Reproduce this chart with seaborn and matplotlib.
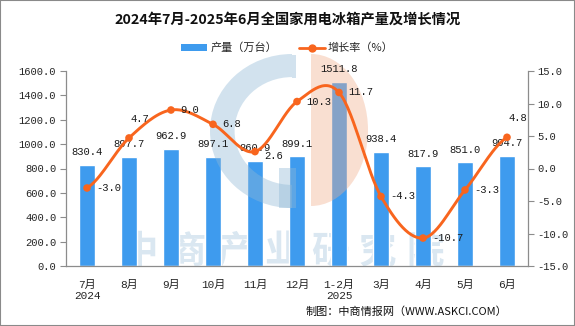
import numpy as np
import pandas as pd
import matplotlib
matplotlib.use("Agg")
import matplotlib.pyplot as plt
from matplotlib.patches import Patch, Wedge, Rectangle
from matplotlib.lines import Line2D
from matplotlib.transforms import Affine2D
from matplotlib.ticker import FixedLocator, FuncFormatter
import seaborn as sns

# ---- data ----
months = ["7月\n2024", "8月", "9月", "10月", "11月", "12月", "1-2月\n2025",
          "3月", "4月", "5月", "6月"]
output = [830.4, 897.7, 962.9, 897.1, 860.9, 899.1, 1511.8, 938.4, 817.9, 851.0, 904.7]
growth = [-3.0, 4.7, 9.0, 6.8, 2.6, 10.3, 11.7, -4.3, -10.7, -3.3, 4.8]

title = "2024年7月-2025年6月全国家用电冰箱产量及增长情况"
bar_name = "产量（万台）"
line_name = "增长率（%）"
source = "制图：中商情报网（WWW.ASKCI.COM）"
watermark = "中商产业研究院"

BAR = "#3E9BEE"
LINE = "#F8651E"
GREY = "#8C8C8C"

sns.set_style("white")
plt.rcParams["font.family"] = ["Liberation Mono", "Noto Sans CJK SC", "DejaVu Sans"]
CJK = ["Noto Sans CJK SC", "DejaVu Sans"]

W, H = 575, 326
fig = plt.figure(figsize=(W / 100, H / 100), dpi=100)
ax = fig.add_axes([66 / W, 1 - 266 / H, (528 - 66) / W, (266 - 71) / H])
ax.set_facecolor("none")

df = pd.DataFrame({"month": months, "output": output, "growth": growth})
xpos = np.arange(len(months))


def px(x, y):
    """pixel position (from top-left) -> inches for dpi_scale_trans"""
    return x / 100, (H - y) / 100


# faint watermark text behind the bars
for i, ch in enumerate(watermark):
    cx, cy = px(140 + i * 47.5, 251)
    ax.text(cx, cy, ch, transform=fig.dpi_scale_trans, family=CJK,
            fontsize=27, fontweight="bold", color="#DAE7F1",
            ha="center", va="center", zorder=0.5, clip_on=False)

sns.barplot(data=df, x="month", y="output", color=BAR, width=0.4,
            saturation=1, ax=ax, zorder=2)
for p, v in zip(ax.patches, output):
    ax.annotate(f"{v:.1f}", (p.get_x() + p.get_width() / 2, v),
                xytext=(0, 5.5), textcoords="offset points",
                ha="center", va="bottom", fontsize=7.6, color="#1a1a1a", zorder=6)

# logo shapes laid over the bars
blue_c = "#8FB8D6"
peach = "#F2AF8E"
tr_blue = Affine2D().scale(0.82, 0.77).translate(*px(292, 131)) + fig.dpi_scale_trans
ax.add_patch(Wedge((0, 0), 1.0, 90, 270, width=0.3, transform=tr_blue,
                   facecolor=blue_c, edgecolor="none", alpha=0.4, zorder=3, clip_on=False))
bx, by = px(292, 78)
ax.add_patch(Rectangle((bx, by), 0.04, 0.23, transform=fig.dpi_scale_trans,
                       facecolor=blue_c, edgecolor="none", alpha=0.4, zorder=3, clip_on=False))
bx, by = px(279, 208)
ax.add_patch(Rectangle((bx, by), 0.17, 0.40, transform=fig.dpi_scale_trans,
                       facecolor=blue_c, edgecolor="none", alpha=0.4, zorder=3, clip_on=False))
tr_peach = Affine2D().scale(0.57, 0.76).translate(*px(311, 130)) + fig.dpi_scale_trans
ax.add_patch(Wedge((0, 0), 1.0, -90, 90, transform=tr_peach,
                   facecolor=peach, edgecolor="none", alpha=0.4, zorder=3, clip_on=False))

ax.set_xlim(-0.5, len(months) - 0.5)
ax.set_ylim(0, 1600)
ax.yaxis.set_major_locator(FixedLocator(np.arange(0, 1601, 200)))
ax.yaxis.set_major_formatter(FuncFormatter(lambda v, _: f"{v:.1f}"))
ax.set_xlabel("")
ax.set_ylabel("")
ax.xaxis.set_minor_locator(FixedLocator(np.arange(-0.5, len(months), 1.0)))
ax.tick_params(axis="x", which="major", length=0, pad=10, labelsize=8)
ax.tick_params(axis="x", which="minor", length=4, color=GREY, width=0.8, direction="out")
ax.tick_params(axis="y", length=4, color=GREY, width=0.8, direction="out",
               labelsize=7.6, pad=3, left=True)
for lab in ax.get_xticklabels():
    lab.set_linespacing(1.15)
    lab.set_family(["Liberation Mono", "Noto Sans CJK SC"])
for side in ["top", "right"]:
    ax.spines[side].set_visible(False)
for side in ["left", "bottom"]:
    ax.spines[side].set_color(GREY)
    ax.spines[side].set_linewidth(0.9)

# growth rate on the secondary axis
ax2 = ax.twinx()
ax2.set_ylim(-15, 15)
ax2.yaxis.set_major_locator(FixedLocator(np.arange(-15, 16, 5)))
ax2.yaxis.set_major_formatter(FuncFormatter(lambda v, _: f"{v:.1f}"))
ax2.tick_params(axis="y", length=4, color=GREY, width=0.8, direction="out",
                labelsize=7.6, pad=3, right=True)
for side in ["top", "left", "bottom"]:
    ax2.spines[side].set_visible(False)
ax2.spines["right"].set_color(GREY)
ax2.spines["right"].set_linewidth(0.9)

# smoothed curve through the growth points (Catmull-Rom segments)
g = np.asarray(growth, dtype=float)
pts = np.concatenate([[g[0]], g, [g[-1]]])
xs, ys = [], []
t = np.linspace(0, 1, 30)
for i in range(len(g) - 1):
    p0, p1, p2, p3 = pts[i], pts[i + 1], pts[i + 2], pts[i + 3]
    y = 0.5 * (2 * p1 + (-p0 + p2) * t + (2 * p0 - 5 * p1 + 4 * p2 - p3) * t ** 2
               + (-p0 + 3 * p1 - 3 * p2 + p3) * t ** 3)
    xs.append(xpos[i] + t)
    ys.append(y)
curve = pd.DataFrame({"x": np.concatenate(xs), "y": np.concatenate(ys)})
sns.lineplot(data=curve, x="x", y="y", color=LINE, linewidth=2.1, ax=ax2,
             sort=False, zorder=4)
sns.scatterplot(x=xpos, y=growth, color=LINE, s=30, edgecolor="none", ax=ax2, zorder=5)
ax2.set_xlim(-0.5, len(months) - 0.5)
ax2.set_xlabel("")
ax2.set_ylabel("")

offsets = {1: (1, 10, "left", "bottom"), 10: (1, 10, "left", "bottom"),
           4: (7, -3, "left", "center")}
for i, v in enumerate(growth):
    dx, dy, ha, va = offsets.get(i, (7, 0, "left", "center"))
    ax2.annotate(f"{v:.1f}", (xpos[i], v), xytext=(dx, dy), textcoords="offset points",
                 ha=ha, va=va, fontsize=7.6, color="#1a1a1a", zorder=6)

# title, legend, source
fig.text(0.5, 1 - 20 / H, title, ha="center", va="center", fontsize=10.3,
         fontweight="bold", family=CJK, color="#111111")
handles = [Patch(facecolor=BAR, edgecolor="none"),
           Line2D([0], [0], color=LINE, lw=2.0, marker="o", markersize=5)]
leg = fig.legend(handles, [bar_name, line_name], loc="center",
                 bbox_to_anchor=(0.5, 1 - 48 / H), ncol=2, frameon=False,
                 prop={"family": CJK, "size": 8}, handlelength=2.3, handleheight=0.55,
                 handletextpad=0.3, columnspacing=2.0)
fig.text(507 / W, 1 - 312 / H, source, ha="right", va="center", fontsize=8,
         family=CJK, color="#111111")

fig.add_artist(Rectangle((0, 0), 1, 1, transform=fig.transFigure, fill=False,
                         edgecolor="#8a8a8a", linewidth=1.5))

fig.savefig("out.png", dpi=100)
